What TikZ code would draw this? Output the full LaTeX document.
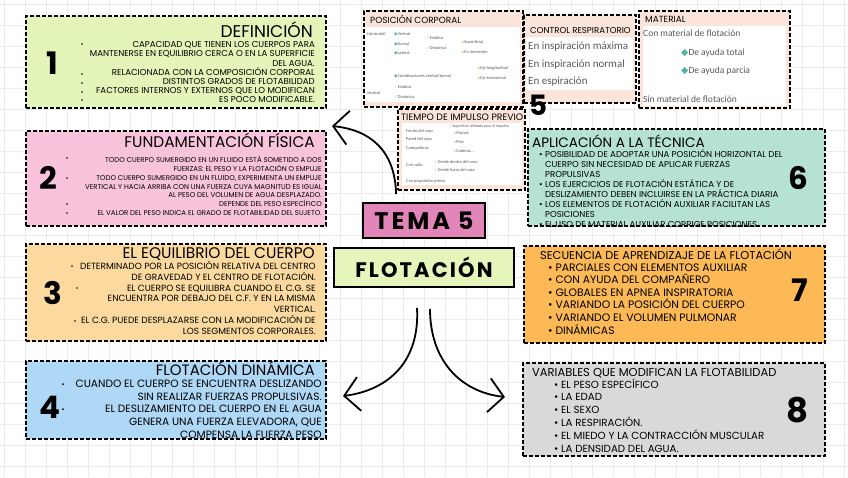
\documentclass[tikz,border=0pt]{standalone}
\usepackage{fontspec}
\usepackage{tikz}
\usetikzlibrary{arrows.meta}
\setmainfont{Poppins}
\newfontfamily\handfont{Poppins}
\newfontfamily\shotfont{Carlito}
\newfontfamily\symfont{DejaVu Sans}
\definecolor{defgreen}{HTML}{E4F5B9}
\definecolor{fundpink}{HTML}{F9C4DB}
\definecolor{equipeach}{HTML}{FCDA9F}
\definecolor{dinblue}{HTML}{AFD7F6}
\definecolor{tecmint}{HTML}{B5E2D2}
\definecolor{secorange}{HTML}{FCB955}
\definecolor{vargray}{HTML}{D9D9D9}
\definecolor{temapink}{HTML}{E285B8}
\definecolor{flotgreen}{HTML}{E6F5BB}
\definecolor{shotpeach}{HTML}{FBE5DB}
\definecolor{shotgray}{HTML}{595959}
\definecolor{shotteal}{HTML}{4FB3A9}
\definecolor{shotpink}{HTML}{E8A0B4}
\definecolor{shotorange}{HTML}{F2A65A}
\newcommand\shotdia{{\symfont\textcolor{shotteal}{◆}}}
\newcommand\shotchk{{\symfont\textcolor{shotpink}{✓}}}
\newcommand\shotarr{{\symfont\textcolor{shotorange}{▸}}}
\newcommand\shotdot{{\textcolor{shotpink}{•}}}
\tikzset{
  card/.style={draw, line width=1.6pt, dash pattern=on 4pt off 2pt, anchor=north west, inner sep=0pt},
  headbox/.style={draw, line width=1.8pt, inner sep=0pt},
  shotarea/.style={fill=white, anchor=north west, inner sep=0pt},
  bignum/.style={font=\handfont\bfseries\fontsize{31}{31}\selectfont, inner sep=0pt},
  cardtitle/.style={inner sep=0pt},
  cardtext/.style={inner sep=0pt},
  paneltitle/.style={font=\fontsize{8.9}{9}\selectfont, anchor=base west, inner sep=0pt},
  shottext/.style={font=\shotfont\fontsize{4.4}{5}\selectfont, text=shotgray, anchor=west, inner sep=0pt},
  bigarrow/.style={-{Straight Barb[length=15pt,width=34pt]}, line width=1.8pt},
  gridline/.style={black!8, line width=0.5pt}
}
\begin{document}
\begin{tikzpicture}[x=1pt,y=-1pt]
  \fill[white] (0,0) rectangle (848,477);
  \useasboundingbox (0,0) rectangle (848,477);
  \foreach \gx in {4,25,...,848} \draw[gridline] (\gx,0) -- (\gx,477);
  \foreach \gy in {4,25,...,477} \draw[gridline] (0,\gy) -- (848,\gy);

  % 1 definicion
  \node[card, fill=defgreen, minimum width=300pt, minimum height=92pt] (def) at (25,15) {};
  \node[bignum] (n1) at (52,63) {1};
  \node[cardtitle, anchor=base east, font=\fontsize{17}{18}\selectfont] (defT) at (313,37.2) {DEFINICIÓN};
  \node[cardtext, align=right, anchor=north east, font=\fontsize{8.6}{9.2}\selectfont] (defB) at (315,41.4)
    {CAPACIDAD QUE TIENEN LOS CUERPOS PARA\\MANTENERSE EN EQUILIBRIO CERCA O EN LA SUPERFICIE\\DEL AGUA.\\RELACIONADA CON LA COMPOSICIÓN CORPORAL\\DISTINTOS GRADOS DE FLOTABILIDAD\\FACTORES INTERNOS Y EXTERNOS QUE LO MODIFICAN\\ES POCO MODIFICABLE.};
  \foreach \by in {44,74,83,92,100} \fill (82,\by) circle (0.9pt);

  % 2 fundamentacion
  \node[card, fill=fundpink, minimum width=300pt, minimum height=95pt] (fund) at (25,130) {};
  \node[bignum] (n2) at (48,178) {2};
  \node[cardtitle, anchor=base east, font=\fontsize{15.4}{16}\selectfont] (fundT) at (315,147.4) {FUNDAMENTACIÓN FÍSICA};
  \node[cardtext, align=right, anchor=north east, font=\fontsize{7}{8.8}\selectfont] (fundB) at (322,156.1)
    {TODO CUERPO SUMERGIDO EN UN FLUIDO ESTÁ SOMETIDO A DOS\\FUERZAS: EL PESO Y LA FLOTACIÓN O EMPUJE\\TODO CUERPO SUMERGIDO EN UN FLUIDO, EXPERIMENTA UN EMPUJE\\VERTICAL Y HACIA ARRIBA CON UNA FUERZA CUYA MAGNITUD ES IGUAL\\AL PESO DEL VOLUMEN DE AGUA DESPLAZADO.\\DEPENDE DEL PESO ESPECÍFICO\\EL VALOR DEL PESO INDICA EL GRADO DE FLOTABILIDAD DEL SUJETO.};
  \foreach \by in {158,178,204,213} \fill (67,\by) circle (0.9pt);

  % 3 equilibrio
  \node[card, fill=equipeach, minimum width=300pt, minimum height=97pt] (equi) at (25,243) {};
  \node[bignum] (n3) at (53,293) {3};
  \node[cardtitle, anchor=base east, font=\fontsize{15.4}{16}\selectfont] (equiT) at (315,258.4) {EL EQUILIBRIO DEL CUERPO};
  \node[cardtext, align=right, anchor=north east, font=\fontsize{9}{10.8}\selectfont] (equiB) at (316,261)
    {DETERMINADO POR LA POSICIÓN RELATIVA DEL CENTRO\\DE GRAVEDAD Y EL CENTRO DE FLOTACIÓN.\\EL CUERPO SE EQUILIBRA CUANDO EL C.G. SE\\ENCUENTRA POR DEBAJO DEL C.F. Y EN LA MISMA\\VERTICAL.\\EL C.G. PUEDE DESPLAZARSE CON LA MODIFICACIÓN DE\\LOS SEGMENTOS CORPORALES.};
  \fill (72,266) circle (0.9pt);
  \fill (77,288) circle (0.9pt);
  \fill (75,321) circle (0.9pt);

  % 4 flotacion dinamica
  \node[card, fill=dinblue, minimum width=300pt, minimum height=78pt] (din) at (25,360) {};
  \node[bignum] (n4) at (50,407) {4};
  \node[cardtitle, anchor=base east, font=\fontsize{15}{16}\selectfont] (dinT) at (315,375.5) {FLOTACIÓN DINÁMICA};
  \node[cardtext, align=right, anchor=north east, font=\fontsize{10.6}{12.8}\selectfont] (dinB) at (322,379.6)
    {CUANDO EL CUERPO SE ENCUENTRA DESLIZANDO\\SIN REALIZAR FUERZAS PROPULSIVAS.\\EL DESLIZAMIENTO DEL CUERPO EN EL AGUA\\GENERA UNA FUERZA ELEVADORA, QUE\\COMPENSA LA FUERZA PESO};
  \foreach \by in {384,409} \fill (63,\by) circle (1pt);

  % 5 posicion corporal
  \node[card, fill=shotpeach, minimum width=159pt, minimum height=96pt] (pos) at (363,10) {};
  \node[shotarea, minimum width=155pt, minimum height=75pt] (posA) at (365,27) {};
  \node[paneltitle] (posT) at (370,23.2) {POSICIÓN CORPORAL};
  \node[shottext] (p1) at (367,34) {Horizontal};
  \node[shottext] (p2) at (394,34) {\shotdia Ventral};
  \node[shottext] (p3) at (394,44) {\shotdia Dorsal};
  \node[shottext] (p4) at (394,53) {\shotdia Lateral};
  \node[shottext] (p5) at (426,38) {\shotchk Estática};
  \node[shottext] (p6) at (426,48) {\shotchk Dinámica};
  \node[shottext] (p7) at (462,42) {\shotarr Superficial};
  \node[shottext] (p8) at (462,52) {\shotarr En inmersión};
  \node[shottext] (p9) at (394,76) {\shotdia Combinaciones ventral/dorsal};
  \node[shottext] (p10) at (478,68) {\shotarr Eje longitudinal};
  \node[shottext] (p11) at (478,78) {\shotarr Eje transversal};
  \node[shottext] (p12) at (367,93) {vertical};
  \node[shottext] (p13) at (394,87) {\shotchk Estática};
  \node[shottext] (p14) at (394,97) {\shotchk Dinámica};

  % 5 control respiratorio
  \node[card, fill=shotpeach, minimum width=112pt, minimum height=88pt] (resp) at (523,14) {};
  \node[shotarea, minimum width=107pt, minimum height=53pt] (respA) at (526,37) {};
  \node[paneltitle, font=\fontsize{8.6}{9}\selectfont] (respT) at (530,33) {CONTROL RESPIRATORIO};
  \node[shottext, font=\shotfont\fontsize{11}{12}\selectfont] (r1) at (528,47) {En inspiración máxima};
  \node[shottext, font=\shotfont\fontsize{11}{12}\selectfont] (r2) at (528,65) {En inspiración normal};
  \node[shottext, font=\shotfont\fontsize{11}{12}\selectfont] (r3) at (528,82) {En espiración};

  % 5 material
  \node[card, fill=shotpeach, minimum width=151pt, minimum height=97pt] (mat) at (638,10) {};
  \node[shotarea, minimum width=143pt, minimum height=80pt] (matA) at (643,26) {};
  \node[paneltitle] (matT) at (645,22.8) {MATERIAL};
  \node[shottext, font=\shotfont\fontsize{9.5}{10}\selectfont] (m1) at (643,33) {Con material de flotación};
  \node[shottext, font=\shotfont\fontsize{9.5}{10}\selectfont] (m2) at (681,53) {\shotdia De ayuda total};
  \node[shottext, font=\shotfont\fontsize{9.5}{10}\selectfont] (m3) at (681,71) {\shotdia De ayuda parcia};
  \node[shottext, font=\shotfont\fontsize{9.5}{10}\selectfont] (m4) at (643,99) {Sin material de flotación};

  % 5 tiempo de impulso
  \node[card, fill=shotpeach, minimum width=127pt, minimum height=81pt] (imp) at (397,108) {};
  \node[shotarea, minimum width=120pt, minimum height=62pt] (impA) at (402,123) {};
  \node[paneltitle, font=\fontsize{9.3}{9}\selectfont] (impT) at (401,120.3) {TIEMPO DE IMPULSO PREVIO};
  \node[shottext, font=\shotfont\fontsize{4}{5}\selectfont] (i1) at (449,126) {\shotchk Superficie utilizada para el impulso};
  \node[shottext] (i2) at (406,131) {Fondo del vaso};
  \node[shottext] (i3) at (406,139) {Pared del vaso};
  \node[shottext] (i4) at (406,148) {Compañeros};
  \node[shottext] (i5) at (454,133) {\shotdot Manos};
  \node[shottext] (i6) at (454,142) {\shotdot Pies};
  \node[shottext] (i7) at (454,151) {\shotdot Caderas...};
  \node[shottext] (i8) at (406,165) {Con salto};
  \node[shottext] (i9) at (434,162) {\shotchk Desde dentro del vaso};
  \node[shottext] (i10) at (434,170) {\shotchk Desde fuera del vaso};
  \node[shottext] (i11) at (406,181) {Con propulsión previa};
  \node[bignum, font=\handfont\bfseries\fontsize{28}{28}\selectfont] (n5) at (538,105) {5};

  % 6 aplicacion
  \node[card, fill=tecmint, minimum width=297pt, minimum height=97pt] (tec) at (527,128) {};
  \node[cardtitle, anchor=base west, font=\fontsize{13.6}{14}\selectfont] (tecT) at (532,147.8) {APLICACIÓN A LA TÉCNICA};
  \node[cardtext, align=left, anchor=north west, font=\fontsize{8.6}{10}\selectfont] (tecB) at (539,149.3)
    {• POSIBILIDAD DE ADOPTAR UNA POSICIÓN HORIZONTAL DEL\\\phantom{• }CUERPO SIN NECESIDAD DE APLICAR FUERZAS\\\phantom{• }PROPULSIVAS\\• LOS EJERCICIOS DE FLOTACIÓN ESTÁTICA Y DE\\\phantom{• }DESLIZAMIENTO DEBEN INCLUIRSE EN LA PRÁCTICA DIARIA\\• LOS ELEMENTOS DE FLOTACIÓN AUXILIAR FACILITAN LAS\\\phantom{• }POSICIONES\\• EL USO DE MATERIAL AUXILIAR CORRIGE POSICIONES};
  \node[bignum] (n6) at (798,178) {6};

  % 7 secuencia
  \node[card, fill=secorange, minimum width=301pt, minimum height=97pt] (sec) at (523,245) {};
  \node[cardtitle, anchor=base west, font=\fontsize{11.4}{12}\selectfont] (secT) at (540,259) {SECUENCIA DE APRENDIZAJE DE LA FLOTACIÓN};
  \node[cardtext, align=left, anchor=north west, font=\fontsize{10.8}{12.6}\selectfont] (secB) at (548,263.2)
    {• PARCIALES CON ELEMENTOS AUXILIAR\\• CON AYUDA DEL COMPAÑERO\\• GLOBALES EN APNEA INSPIRATORIA\\• VARIANDO LA POSICIÓN DEL CUERPO\\• VARIANDO EL VOLUMEN PULMONAR\\• DINÁMICAS};
  \node[bignum] (n7) at (800,290) {7};

  % 8 variables
  \node[card, fill=vargray, minimum width=302pt, minimum height=93pt] (var) at (522,362) {};
  \node[cardtitle, anchor=base west, font=\fontsize{11.5}{12}\selectfont] (varT) at (532,376) {VARIABLES QUE MODIFICAN LA FLOTABILIDAD};
  \node[cardtext, align=left, anchor=north west, font=\fontsize{10.3}{12.8}\selectfont] (varB) at (554,378.4)
    {• EL PESO ESPECÍFICO\\• LA EDAD\\• EL SEXO\\• LA RESPIRACIÓN.\\• EL MIEDO Y LA CONTRACCIÓN MUSCULAR\\• LA DENSIDAD DEL AGUA.};
  \node[bignum, font=\handfont\bfseries\fontsize{34}{34}\selectfont] (n8) at (798,410) {8};

  % centre
  \node[headbox, fill=temapink, minimum width=122pt, minimum height=35pt, font=\handfont\bfseries\fontsize{24}{24}\selectfont\addfontfeature{LetterSpace=12}] (tema) at (424,220.5) {TEMA 5};
  \node[headbox, fill=flotgreen, minimum width=180pt, minimum height=39pt, font=\handfont\bfseries\fontsize{21}{21}\selectfont\addfontfeature{LetterSpace=10}] (flot) at (424,267.5) {FLOTACIÓN};

  % arrows
  \coordinate (toFund) at (332,126);
  \coordinate (toDin) at (343,396);
  \coordinate (toVar) at (505,397);
  \draw[bigarrow] ([xshift=34pt,yshift=8pt]tema.north west) .. controls (395,150) and (370,130) .. (toFund);
  \draw[bigarrow] ([xshift=-7pt,yshift=-20pt]flot.south) .. controls (420,360) and (390,390) .. (toDin);
  \draw[bigarrow] ([xshift=6pt,yshift=-21pt]flot.south) .. controls (430,360) and (460,392) .. (toVar);
\end{tikzpicture}
\end{document}
